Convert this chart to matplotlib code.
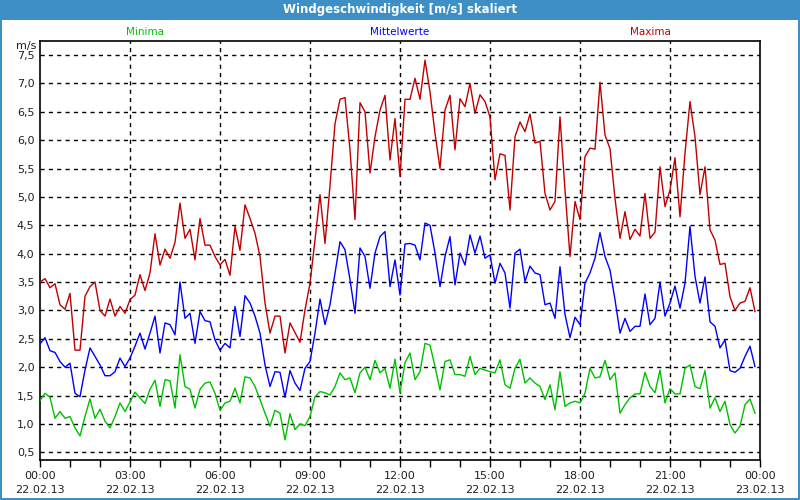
import matplotlib
matplotlib.use("Agg")
import matplotlib.pyplot as plt
from matplotlib.patches import Rectangle
from matplotlib.ticker import FixedLocator, MultipleLocator, FuncFormatter

# ---------------- data (10-minute values, 22.02.13 00:00 .. 23:50) ----------------
maxima = [
    3.5, 3.56, 3.4, 3.47, 3.1, 3.02, 3.3, 2.3, 2.3, 3.25, 3.42, 3.5, 3.0, 2.9, 3.2,
    2.9, 3.07, 2.95, 3.19, 3.27, 3.63, 3.35, 3.66, 4.35, 3.8, 4.08, 3.92, 4.2, 4.89, 4.27,
    4.43, 3.89, 4.62, 4.15, 4.15, 3.95, 3.8, 3.9, 3.62, 4.48, 4.06, 4.86, 4.62, 4.36, 3.95,
    3.13, 2.6, 2.9, 2.9, 2.25, 2.78, 2.61, 2.44, 3.01, 3.48, 4.24, 5.04, 4.18, 5.2,
    6.29, 6.72, 6.75, 5.83, 4.6, 6.66, 6.5, 5.42, 6.06, 6.53, 6.79, 5.65, 6.38, 5.36, 6.72,
    6.72, 7.09, 6.72, 7.41, 6.85, 6.12, 5.5, 6.53, 6.79, 5.83, 6.73, 6.59, 7.0, 6.47,
    6.8, 6.68, 6.41, 5.3, 5.76, 5.73, 4.77, 6.06, 6.32, 6.15, 6.46, 5.95, 5.98, 5.06, 4.77,
    4.92, 6.41, 5.12, 3.95, 4.92, 4.6, 5.71, 5.86, 5.84, 7.02, 6.09, 5.85, 4.97, 4.27,
    4.74, 4.25, 4.43, 4.31, 5.06, 4.27, 4.38, 5.53, 4.83, 5.12, 5.69, 4.65, 5.77, 6.68,
    6.06, 5.04, 5.53, 4.42, 4.24, 3.81, 3.83, 3.24, 3.0, 3.13, 3.16, 3.4, 2.98,
]
mittelwerte = [
    2.41, 2.52, 2.29, 2.26, 2.1, 2.0, 2.07, 1.54, 1.48, 1.95, 2.34, 2.19, 2.04, 1.85, 1.85,
    1.92, 2.16, 2.01, 2.16, 2.37, 2.6, 2.32, 2.6, 2.9, 2.25, 2.78, 2.75, 2.57, 3.5, 2.86,
    2.95, 2.42, 2.98, 2.82, 2.8, 2.48, 2.3, 2.42, 2.34, 3.07, 2.54, 3.26, 3.13, 2.9, 2.6,
    2.04, 1.66, 1.92, 1.91, 1.47, 1.94, 1.72, 1.59, 1.98, 2.1, 2.6, 3.2, 2.75, 3.1,
    3.66, 4.21, 4.07, 3.54, 2.95, 4.1, 3.95, 3.39, 4.01, 4.3, 4.39, 3.42, 3.89, 3.27, 4.17,
    4.18, 4.15, 3.89, 4.54, 4.5, 4.01, 3.42, 3.95, 4.3, 3.45, 4.01, 3.8, 4.33, 4.01,
    4.31, 3.92, 3.98, 3.48, 3.83, 3.66, 3.04, 4.01, 4.08, 3.51, 3.78, 3.66, 3.63, 3.1, 3.13,
    2.86, 3.77, 2.93, 2.52, 2.88, 2.75, 3.48, 3.66, 3.92, 4.37, 3.95, 3.71, 3.19, 2.6,
    2.86, 2.63, 2.72, 2.72, 3.29, 2.75, 2.86, 3.5, 2.9, 3.13, 3.43, 3.04, 3.48, 4.48,
    3.6, 3.13, 3.59, 2.8, 2.72, 2.34, 2.48, 1.94, 1.91, 1.98, 2.19, 2.37, 2.01,
]
minima = [
    1.41, 1.54, 1.47, 1.1, 1.22, 1.1, 1.13, 0.93, 0.79, 1.13, 1.44, 1.1, 1.26, 1.05, 0.93,
    1.13, 1.37, 1.22, 1.39, 1.56, 1.46, 1.36, 1.61, 1.77, 1.31, 1.78, 1.76, 1.28, 2.22, 1.66,
    1.61, 1.28, 1.61, 1.72, 1.74, 1.54, 1.24, 1.37, 1.4, 1.63, 1.37, 1.83, 1.81, 1.66, 1.43,
    1.19, 0.96, 1.24, 1.19, 0.72, 1.18, 0.9, 1.0, 0.97, 1.13, 1.48, 1.57, 1.55, 1.51,
    1.66, 1.9, 1.78, 1.81, 1.55, 1.9, 2.0, 1.78, 2.12, 1.9, 1.98, 1.63, 2.14, 1.55, 2.08,
    2.25, 1.78, 1.92, 2.42, 2.39, 2.01, 1.6, 2.1, 2.13, 1.87, 1.87, 1.84, 2.19, 1.87,
    1.98, 1.95, 1.92, 1.9, 2.13, 1.69, 1.63, 1.98, 2.14, 1.72, 1.81, 1.72, 1.66, 1.43, 1.69,
    1.25, 1.92, 1.31, 1.37, 1.4, 1.37, 1.54, 1.98, 1.81, 1.83, 2.12, 1.78, 1.9, 1.19,
    1.34, 1.46, 1.53, 1.53, 1.91, 1.66, 1.55, 1.95, 1.37, 1.62, 1.53, 1.53, 1.98, 2.04,
    1.66, 1.62, 1.94, 1.28, 1.46, 1.22, 1.4, 0.99, 0.84, 0.96, 1.34, 1.44, 1.19,
]
hours = [i * 10 / 60 for i in range(len(maxima))]

tick_hours = [0, 3, 6, 9, 12, 15, 18, 21, 24]
tick_labels = ["00:00\n22.02.13", "03:00\n22.02.13", "06:00\n22.02.13",
               "09:00\n22.02.13", "12:00\n22.02.13", "15:00\n22.02.13",
               "18:00\n22.02.13", "21:00\n22.02.13", "00:00\n23.02.13"]
series_names = ["Minima", "Mittelwerte", "Maxima"]
title = "Windgeschwindigkeit [m/s] skaliert"

# ---------------- styling ----------------
RED = "#c00000"
BLUE = "#0000ff"
GREEN = "#00c000"
FRAME = "#3d8fc6"

fig = plt.figure(figsize=(8, 5), dpi=100)
fig.patch.set_facecolor("white")

# window frame + title bar
fig.patches.append(Rectangle((0, 1 - 20 / 500), 1, 20 / 500, transform=fig.transFigure,
                             facecolor=FRAME, edgecolor="none", zorder=0))
fig.patches.append(Rectangle((0, 0), 2 / 800, 1, transform=fig.transFigure,
                             facecolor=FRAME, edgecolor="none", zorder=0))
fig.patches.append(Rectangle((1 - 2 / 800, 0), 2 / 800, 1, transform=fig.transFigure,
                             facecolor=FRAME, edgecolor="none", zorder=0))
fig.patches.append(Rectangle((0, 0), 1, 2 / 500, transform=fig.transFigure,
                             facecolor=FRAME, edgecolor="none", zorder=0))
fig.text(0.5, 1 - 10 / 500, title, ha="center", va="center", color="white",
         fontsize=8.5, fontweight="bold")

# legend labels
fig.text(145 / 800, 1 - 32 / 500, series_names[0], ha="center", va="center", color=GREEN, fontsize=7.5)
fig.text(400 / 800, 1 - 32 / 500, series_names[1], ha="center", va="center", color=BLUE, fontsize=7.5)
fig.text(650 / 800, 1 - 32 / 500, series_names[2], ha="center", va="center", color=RED, fontsize=7.5)

ax = fig.add_axes([40 / 800, 40 / 500, 720 / 800, 419.3 / 500])
ax.set_facecolor("white")

ax.plot(hours, maxima, color=RED, lw=1.0, zorder=3)
ax.plot(hours, mittelwerte, color=BLUE, lw=1.0, zorder=3)
ax.plot(hours, minima, color=GREEN, lw=1.0, zorder=3)

ax.set_xlim(0, 24)
ax.set_ylim(0.365, 7.752)

ax.yaxis.set_major_locator(FixedLocator([0.5 + 0.5 * k for k in range(15)]))
ax.yaxis.set_major_formatter(FuncFormatter(lambda v, p: f"{v:.1f}".replace(".", ",")))
ax.tick_params(axis="y", length=0, pad=4, labelsize=8, colors="#202020")

ax.xaxis.set_major_locator(FixedLocator(tick_hours))
ax.set_xticklabels(tick_labels)
ax.xaxis.set_minor_locator(MultipleLocator(1))
ax.tick_params(axis="x", which="both", direction="out", length=5, width=1, color="black",
               labelsize=8, pad=3, labelcolor="#202020")
for lab in ax.get_xticklabels():
    lab.set_linespacing(1.45)

# grid
for k in range(15):
    ax.axhline(0.5 + 0.5 * k, color="black", lw=1, ls=(0, (3, 3)), zorder=1)
for h in tick_hours[1:-1]:
    ax.axvline(h, color="black", lw=1, ls=(0, (3, 3)), zorder=1)

for s in ax.spines.values():
    s.set_color("black")
    s.set_linewidth(1.2)

fig.text(36 / 800, 1 - 46 / 500, "m/s", ha="right", va="center", fontsize=8, color="#202020")

fig.savefig("out.png", dpi=100)
